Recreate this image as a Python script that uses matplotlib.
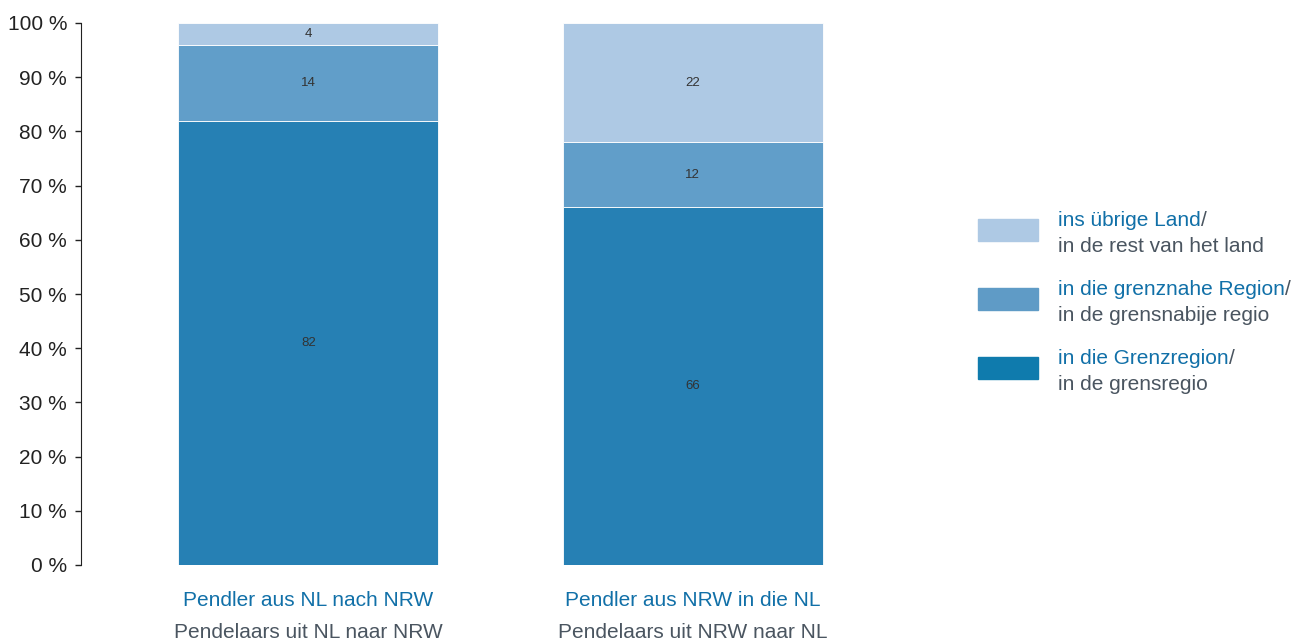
import matplotlib
matplotlib.use("Agg")
from matplotlib import pyplot as plt
from matplotlib.patches import Rectangle

plt.rcParams['font.family'] = ['Liberation Sans', 'DejaVu Sans']

# data (percent)
groups_de = ['Pendler aus NL nach NRW', 'Pendler aus NRW in die NL']
groups_nl = ['Pendelaars uit NL naar NRW', 'Pendelaars uit NRW naar NL']
grenzregion = [82, 66]
grenznah = [14, 12]
uebrig = [4, 22]

series_de = ['ins übrige Land', 'in die grenznahe Region', 'in die Grenzregion']
series_nl = ['in de rest van het land', 'in de grensnabije regio', 'in de grensregio']

c_dark = '#2680b4'
c_mid = '#619ec9'
c_light = '#aec9e4'
legend_colors = [c_light, '#5f9bc6', '#0f7bad']
blue_txt = '#1170a8'
grey_txt = '#4a5560'
fs = 15

W, H = 1298, 643
fig = plt.figure(figsize=(W / 100, H / 100), dpi=100)
ax = fig.add_axes([81 / W, 78 / H, (900 - 81) / W, 542 / H])

x = [0, 1]
bw = 0.677
ax.bar(x, grenzregion, width=bw, color=c_dark, edgecolor='white', linewidth=0.6)
bottom2 = grenzregion
ax.bar(x, grenznah, width=bw, bottom=bottom2, color=c_mid, edgecolor='white', linewidth=0.6)
bottom3 = [a + b for a, b in zip(grenzregion, grenznah)]
ax.bar(x, uebrig, width=bw, bottom=bottom3, color=c_light, edgecolor='white', linewidth=0.6)

# segment labels
for i in x:
    segs = [(0, grenzregion[i]), (grenzregion[i], grenznah[i]), (bottom3[i], uebrig[i])]
    for b, v in segs:
        ax.text(i, b + v / 2, str(v), ha='center', va='center', fontsize=9.5, color='#333333')

ax.set_xlim(-0.592, 0.540 + 1)
ax.set_ylim(0, 100)
ax.set_yticks(range(0, 101, 10))
ax.set_yticklabels([f'{t} %' for t in range(0, 101, 10)])
ax.tick_params(axis='y', length=4, width=1, pad=6, labelsize=fs, colors='#222222')
ax.tick_params(axis='x', bottom=False, labelbottom=False)
for s in ['top', 'right', 'bottom']:
    ax.spines[s].set_visible(False)
ax.spines['left'].set_color('#222222')

# group labels below bars
for i in x:
    ax.annotate(groups_de[i], xy=(i, 0), xycoords='data', xytext=(0, -36),
                textcoords='offset pixels', ha='center', va='center',
                fontsize=fs, color=blue_txt)
    ax.annotate(groups_nl[i], xy=(i, 0), xycoords='data', xytext=(0, -67),
                textcoords='offset pixels', ha='center', va='center',
                fontsize=fs, color=grey_txt)

# legend drawn by hand
legend_tops = [219, 288, 357]
for lab_de, lab_nl, col, top in zip(series_de, series_nl, legend_colors, legend_tops):
    fig.patches.append(Rectangle((978 / W, 1 - (top + 22) / H), 60 / W, 22 / H,
                                 transform=fig.transFigure, color=col))
    t = fig.text(1058 / W, 1 - (top + 1) / H, lab_de, ha='left', va='center',
                 fontsize=fs, color=blue_txt)
    fig.text(1058 / W, 1 - (top + 27) / H, lab_nl, ha='left', va='center',
             fontsize=fs, color=grey_txt)
    ax.annotate('/', xy=(1, 0.5), xycoords=t, ha='left', va='center',
                fontsize=fs, color=grey_txt, annotation_clip=False)

fig.savefig('out.png', dpi=100)
plt.close()
